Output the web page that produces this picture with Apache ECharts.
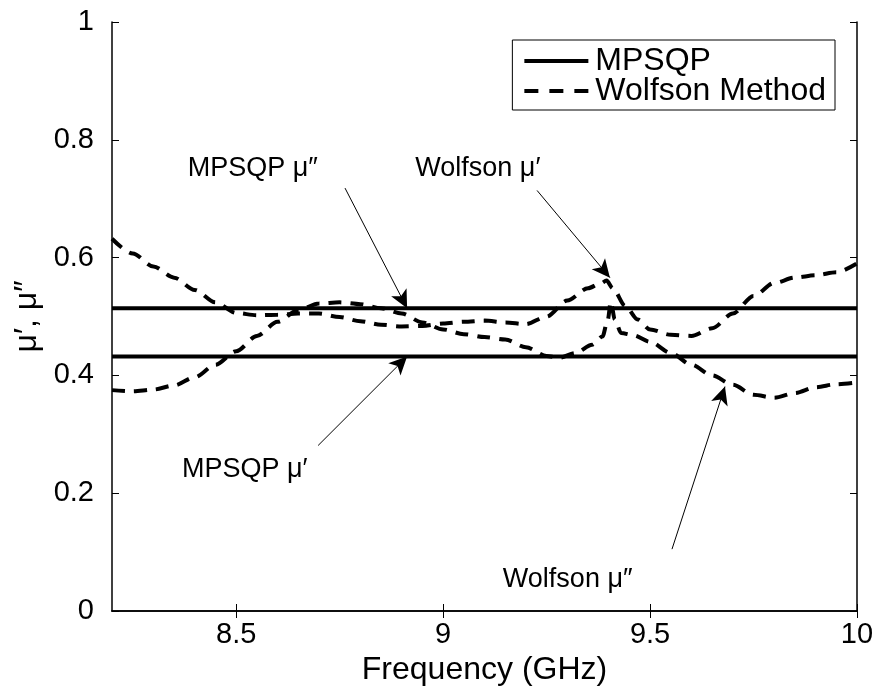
<!DOCTYPE html>
<html><head><meta charset="utf-8">
<script src="https://cdn.jsdelivr.net/npm/echarts@6/dist/echarts.min.js"></script>
<style>html,body{margin:0;padding:0;background:#fff}#c{width:879px;height:693px}</style>
</head><body><div id="c"></div>
<script>
// ---- data ----
const xTickValues = [8.5, 9, 9.5, 10];
const freqMin = 8.2, freqMax = 10;
const mpsqpMuPrime = 0.432;
const mpsqpMuDoublePrime = 0.514;
const wolfsonFreqA = [8.2, 8.25, 8.3, 8.35, 8.4, 8.45, 8.5, 8.55, 8.6, 8.65, 8.7, 8.75, 8.8, 8.85, 8.9, 8.95, 9.0, 9.05, 9.1, 9.15, 9.2, 9.25, 9.3, 9.35, 9.38, 9.395, 9.41, 9.44, 9.47, 9.5, 9.55, 9.6, 9.65, 9.7, 9.75, 9.8, 9.85, 9.9, 9.95, 10.0];
const wolfsonMuPrime = [0.632, 0.607, 0.585, 0.566, 0.545, 0.524, 0.506, 0.502, 0.503, 0.505, 0.505, 0.499, 0.492, 0.486, 0.483, 0.484, 0.488, 0.491, 0.493, 0.490, 0.487, 0.500, 0.527, 0.548, 0.556, 0.561, 0.548, 0.518, 0.495, 0.478, 0.469, 0.467, 0.480, 0.505, 0.535, 0.557, 0.566, 0.570, 0.575, 0.590];
const wolfsonFreqB = [8.2, 8.25, 8.3, 8.35, 8.4, 8.45, 8.5, 8.55, 8.6, 8.65, 8.7, 8.75, 8.8, 8.85, 8.9, 8.95, 9.0, 9.05, 9.1, 9.15, 9.2, 9.25, 9.28, 9.32, 9.36, 9.385, 9.398, 9.405, 9.415, 9.43, 9.46, 9.5, 9.55, 9.6, 9.65, 9.7, 9.75, 9.8, 9.85, 9.9, 9.95, 10.0];
const wolfsonMuDoublePrime = [0.375, 0.373, 0.376, 0.383, 0.397, 0.418, 0.441, 0.467, 0.491, 0.511, 0.522, 0.524, 0.521, 0.514, 0.505, 0.490, 0.478, 0.470, 0.465, 0.461, 0.448, 0.433, 0.430, 0.438, 0.452, 0.466, 0.495, 0.525, 0.495, 0.472, 0.468, 0.457, 0.438, 0.418, 0.400, 0.384, 0.367, 0.362, 0.370, 0.380, 0.385, 0.388];
const annotationTexts = ['MPSQP μ″', 'Wolfson μ′', 'MPSQP μ′', 'Wolfson μ″'];

// ---- chart ----
const FONT = 'Liberation Sans, Arial, Helvetica, sans-serif';
const zip = (xs, ys) => xs.map((x, i) => [x, ys[i]]);
const chart = echarts.init(document.getElementById('c'), null, {renderer: 'canvas'});

const annTextPos = [[8.54, 0.752], [9.084, 0.752], [8.521, 0.241], [9.301, 0.054]];
const annArrows = [
  [[8.763, 0.718], [8.913, mpsqpMuDoublePrime]],
  [[9.227, 0.714], [9.403, 0.566]],
  [[8.698, 0.281], [8.913, mpsqpMuPrime]],
  [[9.553, 0.105], [9.681, 0.381]]
];

const axisLineStyle = {color: '#000', width: 1.5};
const option = {
  backgroundColor: '#fff',
  animation: false,
  grid: {left: 112, right: 22, top: 22, bottom: 82, containLabel: false},
  legend: {
    data: [
      {name: 'MPSQP', icon: 'path://M0 0H64V4H0Z'},
      {name: 'Wolfson Method', icon: 'path://M0 0H14V4H0Z M25 0H39V4H25Z M50 0H64V4H50Z'}
    ],
    orient: 'vertical', right: 44, top: 40,
    itemWidth: 64, itemHeight: 4, itemGap: -2,
    padding: [5, 9, 3, 12],
    borderColor: '#000', borderWidth: 1, backgroundColor: '#fff',
    itemStyle: {color: '#000'},
    textStyle: {fontSize: 32, color: '#000', fontFamily: FONT, padding: [0, 0, 0, 2]}
  },
  xAxis: [{
    type: 'value', min: freqMin, max: freqMax, position: 'bottom',
    name: 'Frequency (GHz)', nameLocation: 'middle', nameGap: 40,
    nameTextStyle: {fontSize: 32, color: '#000', fontFamily: FONT},
    axisLine: {lineStyle: axisLineStyle},
    axisTick: {inside: true, length: 7, lineStyle: {color: '#000', width: 1}, customValues: xTickValues},
    axisLabel: {fontSize: 29, color: '#000', fontFamily: FONT, margin: 9, customValues: xTickValues},
    splitLine: {show: false}
  }, {
    type: 'value', min: freqMin, max: freqMax, position: 'top',
    axisLine: {lineStyle: axisLineStyle},
    axisTick: {inside: true, length: 7, lineStyle: {color: '#000', width: 1}, customValues: xTickValues},
    axisLabel: {show: false}, splitLine: {show: false}
  }],
  yAxis: [{
    type: 'value', min: 0, max: 1, interval: 0.2, position: 'left',
    name: 'μ′, μ″', nameLocation: 'middle', nameGap: 60, nameRotate: 90,
    nameTextStyle: {fontSize: 32, color: '#000', fontFamily: FONT},
    axisLine: {show: true, lineStyle: axisLineStyle},
    axisTick: {show: true, inside: true, length: 7, lineStyle: {color: '#000', width: 1}},
    axisLabel: {fontSize: 29, color: '#000', fontFamily: FONT, margin: 18},
    splitLine: {show: false}
  }, {
    type: 'value', min: 0, max: 1, interval: 0.2, position: 'right',
    axisLine: {show: true, lineStyle: axisLineStyle},
    axisTick: {show: true, inside: true, length: 7, lineStyle: {color: '#000', width: 1}},
    axisLabel: {show: false}, splitLine: {show: false}
  }],
  series: [
    {
      name: 'MPSQP', type: 'line', showSymbol: false, symbol: 'none',
      data: [[freqMin, mpsqpMuDoublePrime], [freqMax, mpsqpMuDoublePrime]],
      lineStyle: {color: '#000', width: 4, type: 'solid'}, itemStyle: {color: '#000'},
      z: 3,
      markLine: {
        silent: true, animation: false,
        symbol: ['none', 'arrow'], symbolSize: [13, 18], symbolOffset: [0, 0],
        label: {show: false},
        lineStyle: {color: '#000', width: 1, type: 'solid'},
        itemStyle: {color: '#000'},
        data: annArrows.map(a => [{coord: a[0]}, {coord: a[1]}])
      }
    },
    {
      name: 'MPSQP', type: 'line', showSymbol: false, symbol: 'none',
      data: [[freqMin, mpsqpMuPrime], [freqMax, mpsqpMuPrime]],
      lineStyle: {color: '#000', width: 4, type: 'solid'}, itemStyle: {color: '#000'}, z: 3
    },
    {
      name: 'Wolfson Method', type: 'line', showSymbol: false, symbol: 'none',
      smooth: 0.3, smoothMonotone: 'x',
      data: zip(wolfsonFreqA, wolfsonMuPrime),
      lineStyle: {color: '#000', width: 4, type: [13, 9]}, itemStyle: {color: '#000'}, z: 4
    },
    {
      name: 'Wolfson Method', type: 'line', showSymbol: false, symbol: 'none',
      smooth: 0.3, smoothMonotone: 'x',
      data: zip(wolfsonFreqB, wolfsonMuDoublePrime),
      lineStyle: {color: '#000', width: 4, type: [13, 9]}, itemStyle: {color: '#000'}, z: 4
    }
  ]
};
chart.setOption(option);

// annotation texts placed through the chart's own coordinate system
chart.setOption({
  graphic: annTextPos.map((p, i) => {
    const px = chart.convertToPixel({xAxisIndex: 0, yAxisIndex: 0}, p);
    return {
      type: 'text', x: px[0], y: px[1], silent: true, z: 10,
      style: {text: annotationTexts[i], fill: '#000', font: '27px ' + FONT,
        align: 'center', verticalAlign: 'middle'}
    };
  })
});
</script>
</body></html>
